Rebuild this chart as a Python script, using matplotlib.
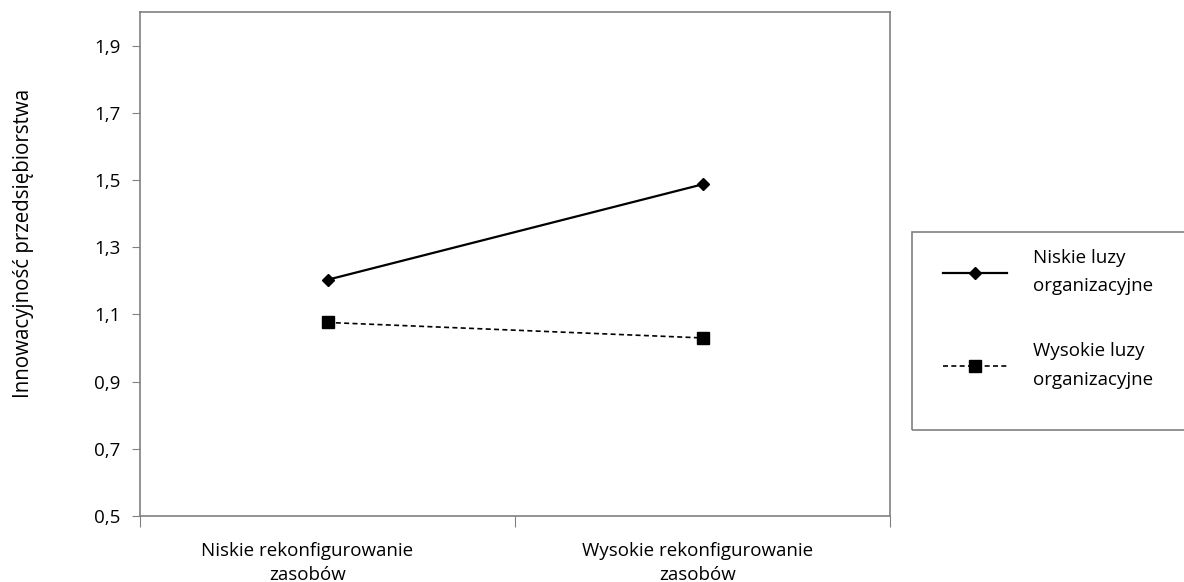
import numpy as np
import matplotlib.pyplot as plt
import matplotlib.transforms as mtransforms
from matplotlib.patches import Rectangle

plt.rcParams['font.family'] = ['Open Sans', 'DejaVu Sans']

categories = ["Niskie rekonfigurowanie\nzasobów", "Wysokie rekonfigurowanie\nzasobów"]
niskie_luzy = [1.203, 1.487]
wysokie_luzy = [1.076, 1.030]
series_labels = ["Niskie luzy\norganizacyjne", "Wysokie luzy\norganizacyjne"]
yticks = [0.5, 0.7, 0.9, 1.1, 1.3, 1.5, 1.7, 1.9]

fs = 13.5
fig = plt.figure(figsize=(11.84, 5.82), dpi=100)
ax = fig.add_axes([140 / 1184, 1 - 516 / 582, 750 / 1184, 504 / 582])

x = np.arange(len(categories)) + 0.5
l1, = ax.plot(x, niskie_luzy, color="black", lw=1.6, marker="D", ms=6)
l2, = ax.plot(x, wysokie_luzy, color="black", lw=1.2, ls=(0, (3, 2)),
              marker="s", ms=8)

ax.set_xlim(0, 2)
ax.set_ylim(0.5, 2.0)
ax.set_yticks(yticks)
ax.set_yticklabels([f"{v:.1f}".replace(".", ",") for v in yticks], fontsize=fs)
ax.set_xticks([0, 1, 2])
ax.set_xticklabels([])
ax.set_xticks(x, minor=True)
ax.set_xticklabels(categories, minor=True, fontsize=fs, linespacing=1.4)
ax.tick_params(axis="x", which="major", length=8, color="#808080", direction="out")
ax.tick_params(axis="x", which="minor", length=0, pad=19)
ax.tick_params(axis="y", length=6, color="#808080", pad=8)
for s in ax.spines.values():
    s.set_color("#808080")
    s.set_linewidth(1.2)

# the category labels sit slightly left of the points, as in the original
shifts = [-0.2, -0.05]
for lbl, dx in zip(ax.get_xticklabels(minor=True), shifts):
    lbl.set_transform(lbl.get_transform() +
                      mtransforms.ScaledTranslation(dx, 0, fig.dpi_scale_trans))

fig.text(24 / 1184, 1 - 243 / 582, "Innowacyjność przedsiębiorstwa", rotation=90,
         ha="center", va="center", fontsize=14.8)

# legend box
fig.patches.append(Rectangle((912 / 1184, 1 - 430 / 582), 280 / 1184, 198 / 582,
                             transform=fig.transFigure, fill=False,
                             edgecolor="#808080", lw=1.2))
leg = fig.legend([l1, l2], series_labels, loc="upper left",
                 bbox_to_anchor=(926 / 1184, 1 - 232 / 582), frameon=False,
                 fontsize=fs, handlelength=3.4, labelspacing=2.5,
                 handletextpad=1.4)
for t in leg.get_texts():
    t.set_linespacing(1.75)

fig.savefig("out.png", dpi=100)
